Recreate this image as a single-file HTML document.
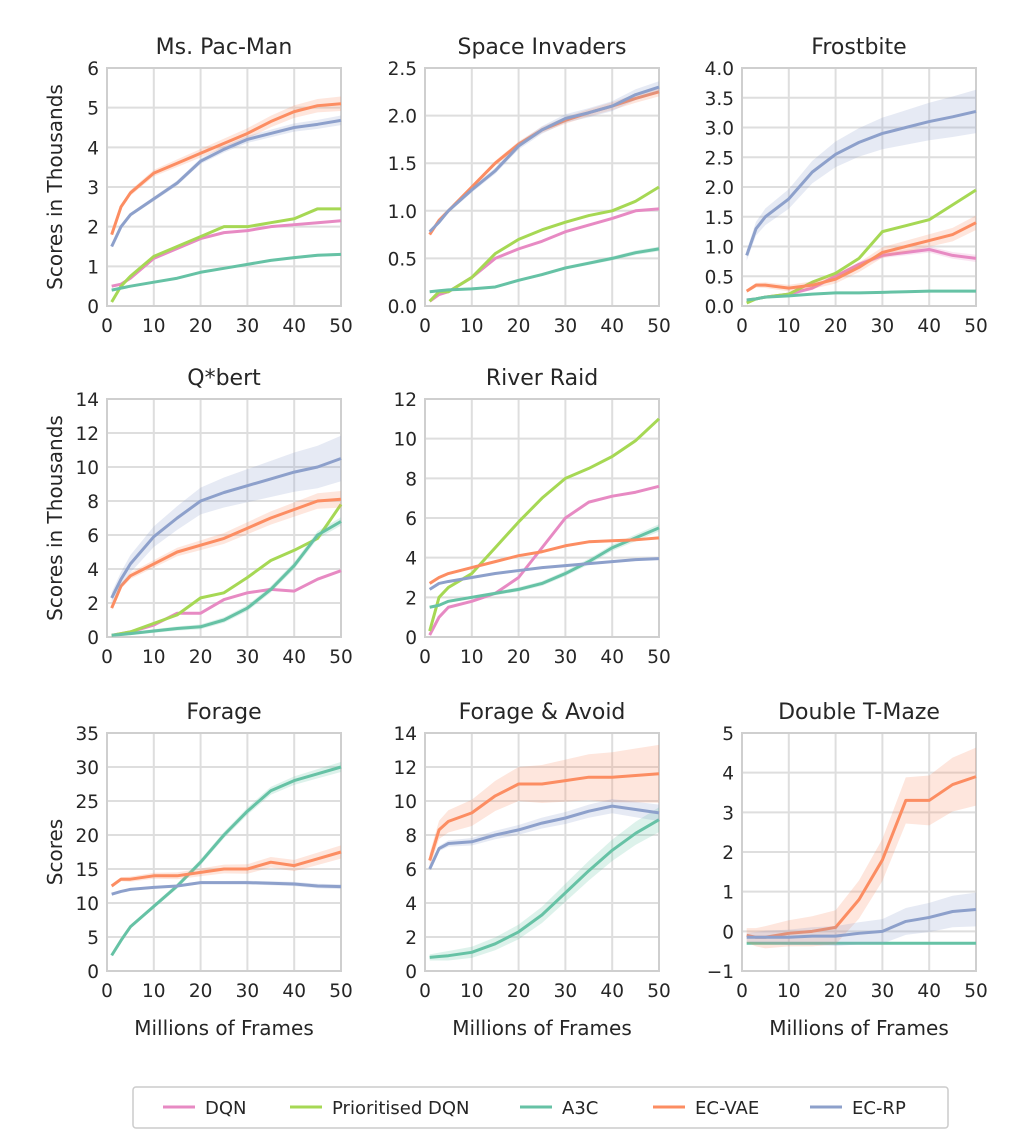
<!DOCTYPE html>
<html><head><meta charset="utf-8"><style>
html,body{margin:0;padding:0;background:#fff;}
svg{display:block;font-family:"DejaVu Sans","Liberation Sans",sans-serif;}
</style></head><body>
<svg id="fig" width="1013" height="1145" viewBox="0 0 1013 1145"></svg>
<script>
const xs = [1,3,5,10,15,20,25,30,35,40,45,50];
const xTicks = [0,10,20,30,40,50];
const seriesNames = ['DQN','Prioritised DQN','A3C','EC-VAE','EC-RP'];
const colors = ['#e78ac3','#a6d854','#66c2a5','#fc8d62','#8da0cb'];

const pacDQN = [0.5,0.55,0.7,1.2,1.45,1.7,1.85,1.9,2.0,2.05,2.1,2.15];
const pacPDQN = [0.1,0.5,0.75,1.25,1.5,1.75,2.0,2.0,2.1,2.2,2.45,2.45];
const pacA3C = [0.4,0.45,0.5,0.6,0.7,0.85,0.95,1.05,1.15,1.22,1.28,1.3];
const pacVAE = [1.8,2.5,2.85,3.35,3.6,3.85,4.1,4.35,4.65,4.9,5.05,5.1];
const pacRP = [1.5,2.0,2.3,2.7,3.1,3.65,3.95,4.2,4.35,4.5,4.58,4.68];

const siDQN = [0.05,0.12,0.15,0.3,0.5,0.6,0.68,0.78,0.85,0.92,1.0,1.02];
const siPDQN = [0.05,0.15,0.15,0.3,0.55,0.7,0.8,0.88,0.95,1.0,1.1,1.25];
const siA3C = [0.15,0.16,0.17,0.18,0.2,0.27,0.33,0.4,0.45,0.5,0.56,0.6];
const siVAE = [0.75,0.9,1.0,1.25,1.5,1.7,1.85,1.95,2.03,2.1,2.18,2.25];
const siRP = [0.78,0.88,1.0,1.22,1.42,1.68,1.85,1.97,2.03,2.1,2.22,2.3];

const fbDQN = [0.1,0.12,0.15,0.2,0.3,0.5,0.7,0.85,0.9,0.95,0.85,0.8];
const fbPDQN = [0.05,0.12,0.15,0.2,0.4,0.55,0.8,1.25,1.35,1.45,1.7,1.95];
const fbA3C = [0.1,0.12,0.15,0.17,0.2,0.22,0.22,0.23,0.24,0.25,0.25,0.25];
const fbVAE = [0.25,0.35,0.35,0.3,0.35,0.45,0.65,0.9,1.0,1.1,1.2,1.4];
const fbRP = [0.85,1.3,1.5,1.8,2.25,2.55,2.75,2.9,3.0,3.1,3.18,3.27];

const qbDQN = [0.1,0.2,0.3,0.7,1.4,1.4,2.2,2.6,2.8,2.7,3.4,3.9];
const qbPDQN = [0.1,0.2,0.3,0.8,1.3,2.3,2.6,3.5,4.5,5.1,5.8,7.8];
const qbA3C = [0.1,0.15,0.2,0.35,0.5,0.6,1.0,1.7,2.8,4.2,6.0,6.8];
const qbVAE = [1.7,3.0,3.6,4.3,5.0,5.4,5.8,6.4,7.0,7.5,8.0,8.1];
const qbRP = [2.3,3.4,4.3,5.9,7.0,8.0,8.5,8.9,9.3,9.7,10.0,10.5];

const rrDQN = [0.1,1.0,1.5,1.8,2.2,3.0,4.5,6.0,6.8,7.1,7.3,7.6];
const rrPDQN = [0.3,2.0,2.5,3.2,4.5,5.8,7.0,8.0,8.5,9.1,9.9,11.0];
const rrA3C = [1.5,1.6,1.8,2.0,2.2,2.4,2.7,3.2,3.8,4.5,5.0,5.5];
const rrVAE = [2.7,3.0,3.2,3.5,3.8,4.1,4.3,4.6,4.8,4.85,4.9,5.0];
const rrRP = [2.4,2.7,2.8,3.0,3.2,3.35,3.5,3.6,3.7,3.8,3.9,3.95];

const foA3C = [2.3,4.5,6.5,9.5,12.5,16,20,23.5,26.5,28,29,30];
const foVAE = [12.5,13.5,13.5,14,14,14.5,15,15,16,15.5,16.5,17.5];
const foRP = [11.3,11.7,12,12.3,12.5,13,13,13,12.9,12.8,12.5,12.4];

const faA3C = [0.8,0.85,0.9,1.1,1.6,2.3,3.3,4.6,5.9,7.1,8.1,8.9];
const faVAE = [6.5,8.3,8.8,9.3,10.3,11,11,11.2,11.4,11.4,11.5,11.6];
const faRP = [6.0,7.2,7.5,7.6,8.0,8.3,8.7,9.0,9.4,9.7,9.5,9.3];

const tmA3C = [-0.3,-0.3,-0.3,-0.3,-0.3,-0.3,-0.3,-0.3,-0.3,-0.3,-0.3,-0.3];
const tmVAE = [-0.1,-0.15,-0.15,-0.05,0,0.1,0.8,1.8,3.3,3.3,3.7,3.9];
const tmRP = [-0.15,-0.15,-0.15,-0.15,-0.12,-0.12,-0.05,0,0.25,0.35,0.5,0.55];

const NS='http://www.w3.org/2000/svg';
const svg=document.getElementById('fig');
function mk(tag,attrs,parent){const e=document.createElementNS(NS,tag);for(const k in attrs)e.setAttribute(k,attrs[k]);(parent||svg).appendChild(e);return e;}

const panels=[
 {name:'ms-pac-man',title:'Ms. Pac-Man',col:0,row:0,ymin:0,ymax:6,yt:[0,1,2,3,4,5,6],fmt:0,ylab:'Scores in Thousands',xlab:false,
  s:[[0,pacDQN,0],[1,pacPDQN,0],[2,pacA3C,0.03],[3,pacVAE,0.15],[4,pacRP,0.1]]},
 {name:'space-invaders',title:'Space Invaders',col:1,row:0,ymin:0,ymax:2.5,yt:[0,0.5,1,1.5,2,2.5],fmt:1,xlab:false,
  s:[[0,siDQN,0],[1,siPDQN,0],[2,siA3C,0.02],[3,siVAE,0.04],[4,siRP,0.05]]},
 {name:'frostbite',title:'Frostbite',col:2,row:0,ymin:0,ymax:4,yt:[0,0.5,1,1.5,2,2.5,3,3.5,4],fmt:1,xlab:false,
  s:[[0,fbDQN,0.05],[1,fbPDQN,0],[2,fbA3C,0.02],[3,fbVAE,0.1],[4,fbRP,0.3]]},
 {name:'qbert',title:'Q*bert',col:0,row:1,ymin:0,ymax:14,yt:[0,2,4,6,8,10,12,14],fmt:0,ylab:'Scores in Thousands',xlab:false,
  s:[[0,qbDQN,0],[1,qbPDQN,0],[2,qbA3C,0.2],[3,qbVAE,0.4],[4,qbRP,1.1]]},
 {name:'river-raid',title:'River Raid',col:1,row:1,ymin:0,ymax:12,yt:[0,2,4,6,8,10,12],fmt:0,xlab:false,
  s:[[0,rrDQN,0],[1,rrPDQN,0],[2,rrA3C,0.15],[3,rrVAE,0.05],[4,rrRP,0.05]]},
 {name:'forage',title:'Forage',col:0,row:2,ymin:0,ymax:35,yt:[0,5,10,15,20,25,30,35],fmt:0,ylab:'Scores',xlab:true,
  s:[[2,foA3C,0.6],[3,foVAE,0.8],[4,foRP,0.3]]},
 {name:'forage-avoid',title:'Forage & Avoid',col:1,row:2,ymin:0,ymax:14,yt:[0,2,4,6,8,10,12,14],fmt:0,xlab:true,
  s:[[2,faA3C,0.6],[3,faVAE,1.4],[4,faRP,0.4]]},
 {name:'double-t-maze',title:'Double T-Maze',col:2,row:2,ymin:-1,ymax:5,yt:[-1,0,1,2,3,4,5],fmt:0,xlab:true,
  s:[[2,tmA3C,0.02],[3,tmVAE,0.6],[4,tmRP,0.35]]}
];
const colX=[107,425,742], rowY=[68,399,733], W=234, H=238;

panels.forEach(p=>{
  const g=mk('g',{});
  
  
  const x0=colX[p.col], y0=rowY[p.row];
  const X=v=>x0+v/50*W;
  const Y=v=>y0+H-(v-p.ymin)/(p.ymax-p.ymin)*H;
  mk('rect',{x:x0,y:y0,width:W,height:H,fill:'#fff'},g);
  xTicks.forEach(t=>{
    mk('line',{x1:X(t),x2:X(t),y1:y0,y2:y0+H,stroke:'#dedede','stroke-width':2},g);
    const tx=mk('text',{x:X(t),y:y0+H+26,'text-anchor':'middle','font-size':18.5,fill:'#262626'},g);
    tx.textContent=t;
    
    
  });
  p.yt.forEach(t=>{
    mk('line',{x1:x0,x2:x0+W,y1:Y(t),y2:Y(t),stroke:'#dedede','stroke-width':2},g);
    const tx=mk('text',{x:x0-8,y:Y(t)+7,'text-anchor':'end','font-size':18.5,fill:'#262626'},g);
    tx.textContent=t<0?'\u2212'+Math.abs(t).toFixed(p.fmt):t.toFixed(p.fmt);
    
    
  });
  mk('rect',{x:x0,y:y0,width:W,height:H,fill:'none',stroke:'#cfcfcf','stroke-width':2},g);
  p.s.forEach(([ci,vals,err])=>{
    if(err>0){
      let up=vals.map((v,i)=>X(xs[i])+','+Y(v+err*(0.3+i/xs.length))).join(' ');
      let dn=vals.map((v,i)=>X(xs[i])+','+Y(v-err*(0.3+i/xs.length))).reverse().join(' ');
      const b=mk('polygon',{points:up+' '+dn,fill:colors[ci],'fill-opacity':0.22,stroke:'none'},g);
      
      
    }
    const pl=mk('polyline',{points:vals.map((v,i)=>X(xs[i])+','+Y(v)).join(' '),fill:'none',stroke:colors[ci],'stroke-width':3,'stroke-linejoin':'round'},g);
    
    
  });
  const ti=mk('text',{x:x0+W/2,y:y0-14,'text-anchor':'middle','font-size':22,fill:'#262626'},g);
  ti.textContent=p.title;
  
  
  if(p.ylab){
    const yl=mk('text',{x:0,y:0,'text-anchor':'middle','font-size':20,fill:'#262626',transform:`translate(${x0-45},${y0+H/2}) rotate(-90)`},g);
    yl.textContent=p.ylab;
    
    
  }
  if(p.xlab){
    const xl=mk('text',{x:x0+W/2,y:y0+H+64,'text-anchor':'middle','font-size':20,fill:'#262626'},g);
    xl.textContent='Millions of Frames';
    
    
  }
});

const lg=mk('g',{});


mk('rect',{x:133,y:1087,width:815,height:41,fill:'#fff',stroke:'#cccccc','stroke-width':1.5,rx:3},lg);
const legX=[163,290,520,653,810];
seriesNames.forEach((n,i)=>{
  const e=mk('g',{},lg);
  
  
  mk('line',{x1:legX[i],x2:legX[i]+32,y1:1107,y2:1107,stroke:colors[i],'stroke-width':3},e);
  const t=mk('text',{x:legX[i]+42,y:1114,'font-size':18,fill:'#262626'},e);
  t.textContent=n;
});
</script>
</body></html>
